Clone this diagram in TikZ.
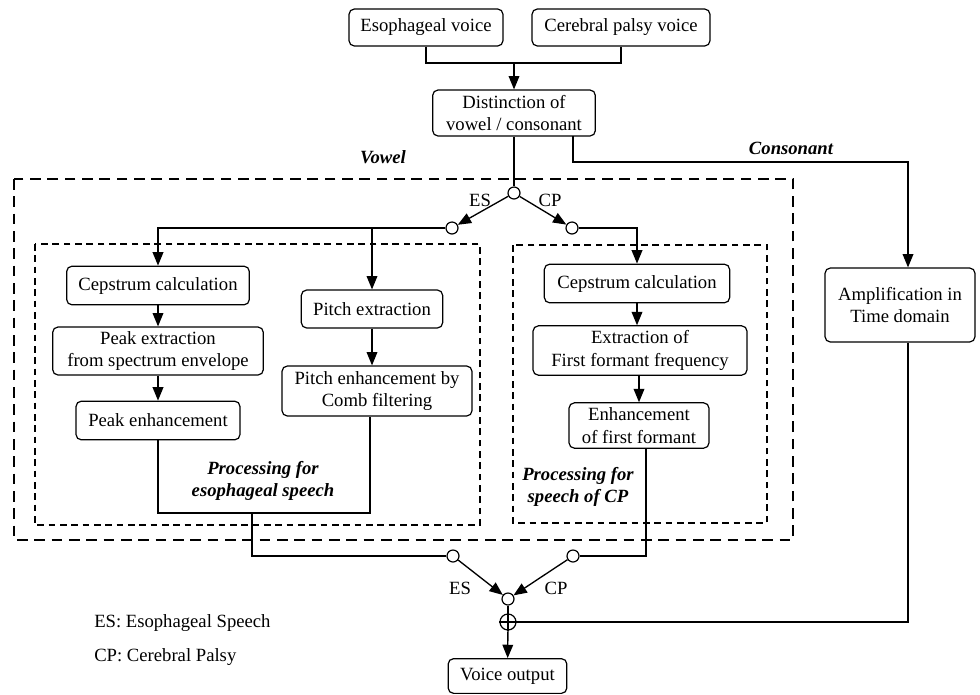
\documentclass[tikz,border=0pt]{standalone}
\usepackage{fontspec}
\setmainfont{Liberation Serif}
\usetikzlibrary{positioning,calc}
\usetikzlibrary{arrows.meta}
\tikzset{
  blk/.style={draw=black,rounded corners=4pt,line width=0.9pt,align=center,inner sep=2pt,
    font=\fontsize{14}{17}\selectfont},
  flow/.style={draw=black,line width=1pt,-{Triangle[length=10pt,width=8pt]}},
  wire/.style={draw=black,line width=1pt},
  sw/.style={circle,draw=black,fill=white,line width=0.9pt,inner sep=0pt,minimum size=9pt},
  outerbox/.style={draw=black,line width=2.2pt,dash pattern=on 8pt off 5pt},
  innerbox/.style={draw=black,line width=1.4pt,dash pattern=on 5pt off 3.5pt},
}
\tikzset{tag/.style={font=\fontsize{14}{17}\selectfont\bfseries\itshape,align=center}, note/.style={font=\fontsize{14}{17}\selectfont}}

\begin{document}
\begin{tikzpicture}[x=0.75pt,y=-0.75pt]
\useasboundingbox (0,0) rectangle (980,694);
% dashed groups
\draw[outerbox] (14,179) rectangle (793,540);
\draw[innerbox] (35,244) rectangle (480,525);
\draw[innerbox] (513,245) rectangle (767,523);
% blocks
\node[blk,minimum width=115.5pt,minimum height=27.75pt] (esv) at (426,27.5) {Esophageal voice};
\node[blk,minimum width=133.5pt,minimum height=27.75pt] (cpv) at (621,27.5) {Cerebral palsy voice};
\node[blk,minimum width=122pt,minimum height=34.5pt] (dist) at (514,113) {Distinction of\\vowel / consonant};
\node[blk,minimum width=112.5pt,minimum height=55.5pt] (amp) at (900,305) {Amplification in\\Time domain};
\node[blk,minimum width=137pt,minimum height=29pt] (cepa) at (158,285.5) {Cepstrum calculation};
\node[blk,minimum width=158pt,minimum height=36pt] (peakx) at (158,351) {Peak extraction\\from spectrum envelope};
\node[blk,minimum width=123pt,minimum height=29pt] (peake) at (158,420.5) {Peak enhancement};
\node[blk,minimum width=106pt,minimum height=28.5pt] (pitchx) at (372,309) {Pitch extraction};
\node[blk,minimum width=142.5pt,minimum height=37.5pt] (pitche) at (377,391) {Pitch enhancement by\\Comb filtering};
\node[blk,minimum width=139pt,minimum height=29pt] (cepb) at (637,283.5) {Cepstrum calculation};
\node[blk,minimum width=160.5pt,minimum height=37pt] (form) at (640,350.5) {Extraction of\\First formant frequency};
\node[blk,minimum width=105pt,minimum height=34pt] (enh) at (639,425.5) {Enhancement\\of first formant};
\node[blk,minimum width=89pt,minimum height=26pt] (vout) at (507.5,676) {Voice output};
% switches
\node[sw] (swin) at (514,193) {};
\node[sw] (swes) at (452,228) {};
\node[sw] (swcp) at (572,228) {};
\node[sw] (swoes) at (453,556) {};
\node[sw] (swocp) at (573,556) {};
\node[sw] (swout) at (508,599) {};
\node[sw,minimum size=12pt] (sum) at (508,622) {};
\draw[line width=0.9pt] (sum.north) -- (sum.south);
\draw[line width=0.9pt] (sum.west) -- (sum.east);
% joints
\coordinate (jn) at (514,63);
\coordinate (cs) at (573,136);
\coordinate (ck) at (908,162);
\coordinate (br) at (372,228);
\coordinate (eL) at (158,513);
\coordinate (eR) at (370,513);
\coordinate (ej) at (252,513);
\coordinate (cq) at (646,448);
% connectors
\draw[wire] (esv.south) |- (jn) -| (cpv.south);
\draw[flow] (jn) -- (dist.north);
\draw[wire] (dist.south) -- (swin.north);
\draw[flow] (cs) |- (ck) -- (ck |- amp.north);
\draw[flow] (swin) -- (swes);
\draw[flow] (swin) -- (swcp);
\draw[flow] (swes.west) -| (cepa.north);
\draw[flow] (br) -- (pitchx.north);
\draw[flow] (swcp.east) -| (cepb.north);
\draw[flow] (cepa.south) -- (peakx.north);
\draw[flow] (peakx.south) -- (peake.north);
\draw[flow] (pitchx.south) -- (pitchx.south |- pitche.north);
\draw[flow] (cepb.south) -- (cepb.south |- form.north);
\draw[flow] (form.south -| enh.north) -- (enh.north);
\draw[wire] (peake.south) -- (eL) -- (eR) -- (eR |- pitche.south);
\draw[wire] (ej) |- (swoes.west);
\draw[wire] (cq) |- (swocp.east);
\draw[flow] (swoes) -- (swout);
\draw[flow] (swocp) -- (swout);
\draw[wire] (swout) -- (sum);
\draw[flow] (sum) -- (vout);
\draw[wire] (amp.south -| ck) |- (sum.east);
% labels
\node[tag] (lvow) at (383,157) {Vowel};
\node[tag] (lcon) at (791,148) {Consonant};
\node[tag] (lpes) at (263,481) {Processing for\\esophageal speech};
\node[tag] (lpcp) at (578,487) {Processing for\\speech of CP};
\node[note] (les1) at (480,200) {ES};
\node[note] (lcp1) at (550,200) {CP};
\node[note] (les2) at (460,588) {ES};
\node[note] (lcp2) at (556,588) {CP};
\node[note,anchor=west,inner sep=0pt] (key1) at (94,623) {ES: Esophageal Speech};
\node[note,anchor=west,inner sep=0pt] (key2) at (94,657) {CP: Cerebral Palsy};
\end{tikzpicture}
\end{document}
